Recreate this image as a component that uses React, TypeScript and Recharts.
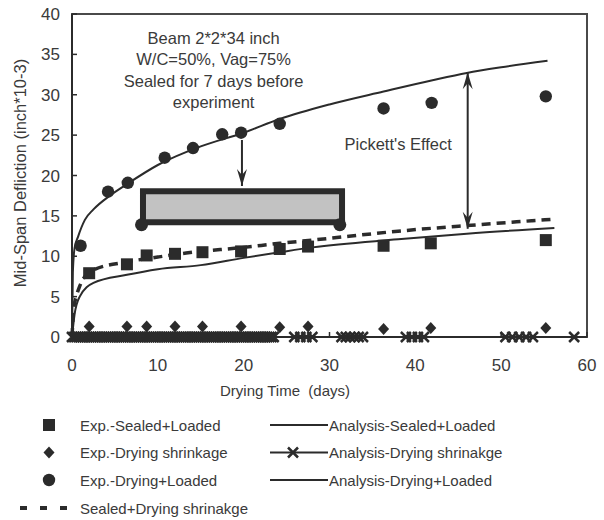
import React from 'react';
import {
  ComposedChart,
  Line,
  Scatter,
  XAxis,
  YAxis,
  ReferenceArea,
  ReferenceDot,
  ReferenceLine,
} from 'recharts';

// ---------- data ----------
const expDays = [2.0, 6.4, 8.7, 12.0, 15.2, 19.7, 24.2, 27.5, 36.3, 41.8, 55.2];
const expSealedLoaded = [7.9, 9.0, 10.1, 10.3, 10.5, 10.6, 10.9, 11.2, 11.3, 11.6, 12.0];
const expDryingShrinkage = [1.3, 1.3, 1.3, 1.3, 1.3, 1.3, 1.2, 1.3, 1.0, 1.1, 1.1];

const expDryLoadedDays = [1.0, 4.2, 6.5, 10.8, 14.1, 17.5, 19.7, 24.2, 36.3, 41.9, 55.2];
const expDryingLoaded = [11.3, 18.0, 19.1, 22.2, 23.4, 25.1, 25.3, 26.4, 28.3, 29.0, 29.8];

const anaDryLoadedDays = [0, 0.1, 0.3, 0.7, 1.5, 2.5, 4.4, 6.5, 10, 15, 20, 24.2, 30, 36.3, 42, 46, 50, 55.4];
const anaDryLoaded = [0, 8, 11, 12.4, 14.5, 15.8, 17.5, 19, 21.3, 23.6, 25.3, 27.0, 28.8, 30.4, 31.8, 32.7, 33.4, 34.2];

const anaSealedDays = [0, 0.3, 0.9, 2.5, 6.4, 10, 15, 20, 24.2, 28, 38, 46, 56.2];
const anaSealedLoaded = [0, 2.8, 5.0, 6.7, 7.7, 8.4, 8.9, 9.8, 10.5, 11.1, 12.1, 12.8, 13.5];

const sealedDryDays = [0, 0.2, 0.5, 0.9, 1.5, 2.5, 6.4, 10, 13.3, 20, 24.2, 28, 39, 46, 53.6, 56.2];
const sealedDrying = [0, 3.5, 5.0, 6.3, 7.5, 8.3, 9.3, 9.9, 10.4, 11.1, 11.6, 12.0, 13.2, 13.8, 14.4, 14.6];

const anaShrinkDays = [
  0, 0.25, 0.5, 0.75, 1, 1.25, 1.5, 1.75, 2, 2.25, 2.5, 2.75, 3, 3.25, 3.5, 3.75, 4, 4.25, 4.5, 4.75,
  5, 5.25, 5.5, 5.75, 6, 6.25, 6.5, 6.75, 7, 7.25, 7.5, 7.75, 8, 8.25, 8.5, 8.75, 9, 9.25, 9.5, 9.75,
  10, 10.25, 10.5, 10.75, 11, 11.25, 11.5, 11.75, 12, 12.25, 12.5, 12.75, 13, 13.25, 13.5, 13.75, 14, 14.25, 14.5, 14.75,
  15, 15.25, 15.5, 15.75, 16, 16.25, 16.5, 16.75, 17, 17.25, 17.5, 17.75, 18, 18.25, 18.5, 18.75, 19, 19.25, 19.5, 19.75,
  20, 20.25, 20.5, 20.75, 21, 21.25, 21.5, 21.75, 22, 22.25, 22.5, 22.75, 23, 23.25, 23.5,
  25.9, 26.6, 27.3, 28.0, 31.4, 31.9, 32.4, 32.9, 33.4, 33.9, 38.9, 39.6, 40.3, 41.0, 50.5, 51.3, 52.1, 52.9, 53.7, 58.5,
];
const anaShrink = [
  0, 0, 0, 0, 0, 0, 0, 0, 0, 0, 0, 0, 0, 0, 0, 0, 0, 0, 0, 0,
  0, 0, 0, 0, 0, 0, 0, 0, 0, 0, 0, 0, 0, 0, 0, 0, 0, 0, 0, 0,
  0, 0, 0, 0, 0, 0, 0, 0, 0, 0, 0, 0, 0, 0, 0, 0, 0, 0, 0, 0,
  0, 0, 0, 0, 0, 0, 0, 0, 0, 0, 0, 0, 0, 0, 0, 0, 0, 0, 0, 0,
  0, 0, 0, 0, 0, 0, 0, 0, 0, 0, 0, 0, 0, 0, 0,
  0, 0, 0, 0, 0, 0, 0, 0, 0, 0, 0, 0, 0, 0, 0, 0, 0, 0, 0, 0,
];

const xTicks = [0, 10, 20, 30, 40, 50, 60];
const yTicks = [0, 5, 10, 15, 20, 25, 30, 35, 40];

const noteLines = ['Beam 2*2*34 inch', 'W/C=50%, Vag=75%', 'Sealed for 7 days before', 'experiment'];
const noteAnchor = { x: 16.5, y: 37.0 };
const pickettLabel = { x: 38.0, y: 23.9, text: "Pickett's Effect" };
const beamBox = { x1: 8.27, x2: 31.46, y1: 14.2, y2: 18.05 };
const beamSupports = [{ x: 8.1, y: 13.9 }, { x: 31.2, y: 13.9 }];
const loadArrow = [{ x: 19.8, y: 24.4 }, { x: 19.8, y: 18.7 }];
const pickettArrow = [{ x: 46.1, y: 13.4 }, { x: 46.1, y: 32.8 }];

const zip = (xs: number[], ys: number[]) => xs.map((x, i) => ({ x, y: ys[i] ?? 0 }));

// ---------- styles ----------
const INK = '#2b2b2b';
const TEXT = '#3a3a3a';
const FONT = '"Liberation Sans", Arial, Helvetica, sans-serif';

const SquareShape = (p: any) => <rect x={p.cx - 6} y={p.cy - 6} width={12} height={12} fill={INK} />;
const DiamondShape = (p: any) => (
  <polygon
    points={`${p.cx},${p.cy - 6} ${p.cx + 5.5},${p.cy} ${p.cx},${p.cy + 6} ${p.cx - 5.5},${p.cy}`}
    fill={INK}
  />
);
const CircleShape = (p: any) => <circle cx={p.cx} cy={p.cy} r={6.2} fill={INK} />;
const XDot = (p: any) => {
  if (p.cx == null || p.cy == null) return <g key={p.index} />;
  return (
    <path
      key={p.index}
      d={`M${p.cx - 5},${p.cy - 5}L${p.cx + 5},${p.cy + 5}M${p.cx - 5},${p.cy + 5}L${p.cx + 5},${p.cy - 5}`}
      stroke={INK}
      strokeWidth={2.5}
      fill="none"
    />
  );
};

const arrowHead = (tx: number, ty: number, dir: number) => {
  const L = 17;
  const W = 5;
  const N = 11;
  return `${tx},${ty} ${tx - W},${ty - dir * L} ${tx},${ty - dir * N} ${tx + W},${ty - dir * L}`;
};

const LoadArrowShape = (p: any) => (
  <g>
    <line x1={p.x1} y1={p.y1} x2={p.x2} y2={p.y2} stroke={INK} strokeWidth={2} />
    <polygon points={arrowHead(p.x2, p.y2, 1)} fill={INK} />
  </g>
);

const DoubleArrowShape = (p: any) => (
  <g>
    <line x1={p.x1} y1={p.y1} x2={p.x2} y2={p.y2} stroke={INK} strokeWidth={2} />
    <polygon points={arrowHead(p.x1, p.y1, 1)} fill={INK} />
    <polygon points={arrowHead(p.x2, p.y2, -1)} fill={INK} />
  </g>
);

const NoteShape = (p: any) => (
  <text x={p.cx} y={p.cy} textAnchor="middle" fontFamily={FONT} fontSize={16.5} fill={TEXT}>
    {noteLines.map((t, i) => (
      <tspan key={i} x={p.cx} y={p.cy + 6 + i * 21.2}>
        {t}
      </tspan>
    ))}
  </text>
);

const PickettShape = (p: any) => (
  <text x={p.cx} y={p.cy + 6} textAnchor="middle" fontFamily={FONT} fontSize={16.5} fill={TEXT}>
    {pickettLabel.text}
  </text>
);

const YTick = (p: any) => (
  <g>
    <line x1={p.x + 12} x2={p.x + 17} y1={p.y} y2={p.y} stroke={INK} strokeWidth={1.5} />
    <text x={p.x} y={p.y + 6} textAnchor="end" fontFamily={FONT} fontSize={17} fill={TEXT}>
      {p.payload.value}
    </text>
  </g>
);

const XTick = (p: any) => (
  <g>
    <line x1={p.x} x2={p.x} y1={p.y} y2={p.y - 5} stroke={INK} strokeWidth={1.5} />
    <text x={p.x} y={p.y + 34} textAnchor="middle" fontFamily={FONT} fontSize={17} fill={TEXT}>
      {p.payload.value}
    </text>
  </g>
);

const XTitle = (p: any) => {
  const vb = p.viewBox || { x: 72, y: 337 };
  return (
    <text
      x={vb.x + 213}
      y={vb.y + 59}
      textAnchor="middle"
      fontFamily={FONT}
      fontSize={15}
      fill={TEXT}
      style={{ whiteSpace: 'pre' }}
    >
      {'Drying Time  (days)'}
    </text>
  );
};

const YTitle = (p: any) => {
  const vb = p.viewBox || { x: 12, y: 14 };
  const cx = 20;
  const cy = vb.y + 159;
  return (
    <text
      x={cx}
      y={cy}
      transform={`rotate(-90 ${cx} ${cy})`}
      textAnchor="middle"
      dominantBaseline="central"
      fontFamily={FONT}
      fontSize={16.5}
      fill={TEXT}
    >
      Mid-Span Defliction (inch*10-3)
    </text>
  );
};

const legendLeft = [
  { label: 'Exp.-Sealed+Loaded', kind: 'square' },
  { label: 'Exp.-Drying shrinkage', kind: 'diamond' },
  { label: 'Exp.-Drying+Loaded', kind: 'circle' },
];
const legendRight = [
  { label: 'Analysis-Sealed+Loaded', kind: 'line' },
  { label: 'Analysis-Drying shrinakge', kind: 'xline' },
  { label: 'Analysis-Drying+Loaded', kind: 'line' },
];
const legendBottom = { label: 'Sealed+Drying shrinakge' };
const rowY = [425, 452.5, 480, 508];

const LegendBlock = () => (
  <svg
    width={604}
    height={520}
    style={{ position: 'absolute', left: 0, top: 0, pointerEvents: 'none' }}
  >
    {legendLeft.map((e, i) => {
      const cy = rowY[i];
      const cx = 49;
      return (
        <g key={e.label}>
          {e.kind === 'square' && SquareShape({ cx, cy })}
          {e.kind === 'diamond' && DiamondShape({ cx, cy })}
          {e.kind === 'circle' && CircleShape({ cx, cy })}
          <text x={80} y={cy + 5.5} fontFamily={FONT} fontSize={15} fill={TEXT}>
            {e.label}
          </text>
        </g>
      );
    })}
    {legendRight.map((e, i) => {
      const cy = rowY[i];
      return (
        <g key={e.label}>
          <line x1={270} x2={328} y1={cy} y2={cy} stroke={INK} strokeWidth={2} />
          {e.kind === 'xline' && XDot({ cx: 293, cy, index: 0 })}
          <text x={329} y={cy + 5.5} fontFamily={FONT} fontSize={15} fill={TEXT}>
            {e.label}
          </text>
        </g>
      );
    })}
    <line x1={20} x2={68} y1={rowY[3]} y2={rowY[3]} stroke={INK} strokeWidth={4} strokeDasharray="7 13" />
    <text x={80} y={rowY[3] + 5.5} fontFamily={FONT} fontSize={15} fill={TEXT}>
      {legendBottom.label}
    </text>
  </svg>
);

export default function App() {
  return (
    <div style={{ position: 'absolute', left: 0, top: 0, width: 604, height: 520, background: '#fff' }}>
      <ComposedChart
        width={604}
        height={520}
        margin={{ top: 14, right: 17, left: 12, bottom: 153 }}
      >
        <XAxis
          type="number"
          dataKey="x"
          domain={[0, 60]}
          ticks={xTicks}
          interval={0}
          height={30}
          tickSize={0}
          tickMargin={0}
          tickLine={false}
          axisLine={{ stroke: INK, strokeWidth: 2 }}
          tick={XTick}
          label={{ content: XTitle }}
        />
        <YAxis
          type="number"
          dataKey="y"
          domain={[0, 40]}
          ticks={yTicks}
          interval={0}
          width={60}
          tickSize={0}
          tickMargin={12}
          tickLine={false}
          axisLine={{ stroke: INK, strokeWidth: 2 }}
          tick={YTick}
          label={{ content: YTitle }}
        />
        <ReferenceArea
          x1={0}
          x2={60}
          y1={0}
          y2={40}
          fill="none"
          fillOpacity={0}
          stroke="#4a4a4a"
          strokeWidth={2}
          ifOverflow="visible"
        />
        <ReferenceArea
          x1={beamBox.x1}
          x2={beamBox.x2}
          y1={beamBox.y1}
          y2={beamBox.y2}
          fill="#c2c2c2"
          fillOpacity={1}
          stroke={INK}
          strokeWidth={6}
        />
        {beamSupports.map((s, i) => (
          <ReferenceDot key={i} x={s.x} y={s.y} r={6.5} fill={INK} stroke="none" />
        ))}
        <ReferenceLine segment={loadArrow} shape={LoadArrowShape} stroke={INK} />
        <ReferenceLine segment={pickettArrow} shape={DoubleArrowShape} stroke={INK} />
        <ReferenceDot x={noteAnchor.x} y={noteAnchor.y} r={0} shape={NoteShape} />
        <ReferenceDot x={pickettLabel.x} y={pickettLabel.y} r={0} shape={PickettShape} />

        <Line
          data={zip(anaDryLoadedDays, anaDryLoaded)}
          dataKey="y"
          type="monotone"
          stroke={INK}
          strokeWidth={2}
          dot={false}
          isAnimationActive={false}
        />
        <Line
          data={zip(anaSealedDays, anaSealedLoaded)}
          dataKey="y"
          type="monotone"
          stroke={INK}
          strokeWidth={2}
          dot={false}
          isAnimationActive={false}
        />
        <Line
          data={zip(sealedDryDays, sealedDrying)}
          dataKey="y"
          type="monotone"
          stroke={INK}
          strokeWidth={3.5}
          strokeDasharray="9 6"
          dot={false}
          isAnimationActive={false}
        />
        <Line
          data={zip(anaShrinkDays, anaShrink)}
          dataKey="y"
          type="linear"
          stroke={INK}
          strokeWidth={2}
          dot={XDot}
          isAnimationActive={false}
        />
        <Scatter data={zip(expDays, expDryingShrinkage)} shape={DiamondShape} isAnimationActive={false} />
        <Scatter data={zip(expDays, expSealedLoaded)} shape={SquareShape} isAnimationActive={false} />
        <Scatter data={zip(expDryLoadedDays, expDryingLoaded)} shape={CircleShape} isAnimationActive={false} />
      </ComposedChart>
      <LegendBlock />
    </div>
  );
}
